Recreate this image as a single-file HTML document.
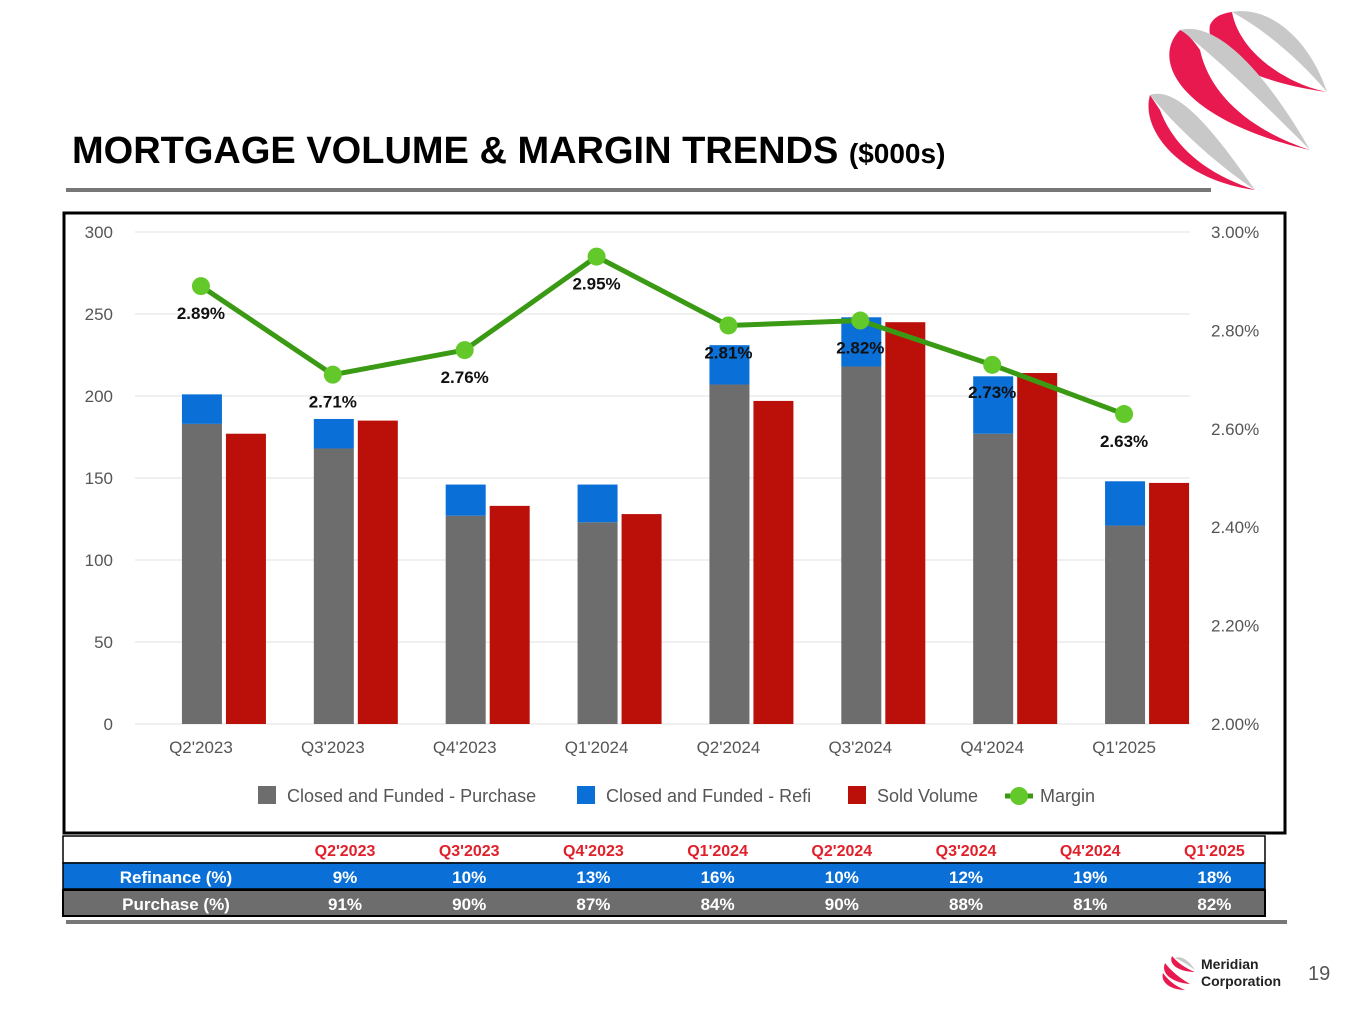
<!DOCTYPE html>
<html><head><meta charset="utf-8"><style>
body{margin:0;background:#fff;font-family:"Liberation Sans",Arial,sans-serif}
svg{display:block}
</style></head><body>
<svg id="s" width="1365" height="1024" viewBox="0 0 1365 1024" xmlns="http://www.w3.org/2000/svg" font-family="Liberation Sans, Arial, sans-serif">
<g>
<path d="M1232,12 C1270,5 1310,40 1327,92 C1300,60 1265,30 1232,12 Z" fill="#c8c8c8"/>
<path d="M1210,25 C1205,50 1240,80 1327,92 C1290,85 1240,55 1232,12 Q1215,14 1210,25Z" fill="#e8194f"/>
<path d="M1180,30 C1220,20 1270,80 1310,150 C1270,110 1220,60 1180,30Z" fill="#c8c8c8"/>
<path d="M1180,30 C1150,60 1180,120 1310,150 C1250,130 1210,95 1200,50 Q1190,35 1180,30Z" fill="#e8194f"/>
<path d="M1150,95 C1180,85 1220,140 1255,190 C1210,160 1170,120 1150,95Z" fill="#c8c8c8"/>
<path d="M1150,95 C1140,130 1180,180 1255,190 C1210,175 1175,150 1160,110Z" fill="#e8194f"/>
</g>
<text x="72" y="163" font-size="38" font-weight="bold" fill="#000">MORTGAGE VOLUME &amp; MARGIN TRENDS <tspan font-size="28">($000s)</tspan></text>
<rect x="66" y="188" width="1145" height="4" fill="#777"/>
<rect x="64" y="213" width="1221" height="620" fill="#fff" stroke="#000" stroke-width="3"/>
<g id="chart"></g>
<g id="table"></g>
<rect x="66" y="920" width="1221" height="4" fill="#777"/>
<g>
<path d="M1175,958 C1182,955 1190,962 1195,970 C1188,965 1180,960 1175,958Z" fill="#c8c8c8"/>
<path d="M1172,956 C1168,965 1180,972 1195,972 C1185,968 1178,963 1172,956Z" fill="#e8194f"/>
<path d="M1165,963 C1160,975 1175,983 1190,984 C1180,978 1172,972 1165,963Z" fill="#e8194f"/>
<path d="M1163,973 C1160,983 1172,990 1185,990 C1175,986 1168,980 1163,973Z" fill="#e8194f"/>
<text x="1201" y="969" font-size="14" font-weight="bold" fill="#222">Meridian</text>
<text x="1201" y="986" font-size="14" font-weight="bold" fill="#222">Corporation</text>
</g>
<text x="1308" y="980" font-size="20" fill="#555">19</text>
</svg>
<script>
const categories=["Q2'2023","Q3'2023","Q4'2023","Q1'2024","Q2'2024","Q3'2024","Q4'2024","Q1'2025"];
const purchase=[183,168,127,123,207,218,177,121];
const refi=[18,18,19,23,24,30,35,27];
const sold=[177,185,133,128,197,245,214,147];
const margin=[2.89,2.71,2.76,2.95,2.81,2.82,2.73,2.63];
const leftTicks=[0,50,100,150,200,250,300];
const rightTicks=[2.0,2.2,2.4,2.6,2.8,3.0];
const refiPct=["9%","10%","13%","16%","10%","12%","19%","18%"];
const purchPct=["91%","90%","87%","84%","90%","88%","81%","82%"];
const NS="http://www.w3.org/2000/svg";
const g=document.getElementById('chart'),tb=document.getElementById('table');
function el(p,t,a,txt){const e=document.createElementNS(NS,t);for(const k in a)e.setAttribute(k,a[k]);if(txt!=null)e.textContent=txt;p.appendChild(e);return e;}
const X0=135,X1=1190,Y0=724,Y1=232,step=(X1-X0)/categories.length;
const y=v=>Y0-(v/300)*(Y0-Y1);
const yr=v=>Y0-((v-2)/1)*(Y0-Y1);
const cx=i=>X0+step*(i+0.5);
leftTicks.forEach(t=>{
 const l=el(g,'line',{x1:X0,x2:X1,y1:y(t),y2:y(t),stroke:'#e0e0e0','stroke-width':1});
 
 const tx=el(g,'text',{x:113,y:y(t)+6,'font-size':17,fill:'#555','text-anchor':'end'},t);
 
});
rightTicks.forEach(t=>{
 const tx=el(g,'text',{x:1211,y:yr(t)+6,'font-size':17,fill:'#555'},t.toFixed(2)+'%');
 
});
categories.forEach((c,i)=>{
 const b1=el(g,'rect',{x:cx(i)-19,y:y(purchase[i]),width:40,height:Y0-y(purchase[i]),fill:'#6d6d6d'});
 
 const b2=el(g,'rect',{x:cx(i)-19,y:y(purchase[i]+refi[i]),width:40,height:y(purchase[i])-y(purchase[i]+refi[i]),fill:'#0a6fd6'});
 
 const b3=el(g,'rect',{x:cx(i)+25,y:y(sold[i]),width:40,height:Y0-y(sold[i]),fill:'#bb0f0a'});
 
 const tx=el(g,'text',{x:cx(i),y:753,'font-size':17,fill:'#555','text-anchor':'middle'},c);
 
});
const pl=el(g,'polyline',{points:margin.map((m,i)=>cx(i)+','+yr(m)).join(' '),fill:'none',stroke:'#3a9a14','stroke-width':5});

margin.forEach((m,i)=>{
 const c=el(g,'circle',{cx:cx(i),cy:yr(m),r:9,fill:'#63c92a'});
 
 const t=el(g,'text',{x:cx(i),y:yr(m)+33,'font-size':17,'font-weight':'bold',fill:'#111','text-anchor':'middle'},m.toFixed(2)+'%');
 
});
const leg=[["Closed and Funded - Purchase",'#6d6d6d',258],["Closed and Funded - Refi",'#0a6fd6',577],["Sold Volume",'#bb0f0a',848]];
leg.forEach(l=>{
 const r=el(g,'rect',{x:l[2],y:786,width:18,height:18,fill:l[1]});
 
 const t=el(g,'text',{x:l[2]+29,y:802,'font-size':18,fill:'#555'},l[0]);
 
});
const ll=el(g,'line',{x1:1005,x2:1033,y1:796,y2:796,stroke:'#3a9a14','stroke-width':5});

const lc=el(g,'circle',{cx:1019,cy:796,r:9,fill:'#63c92a'});

const lt=el(g,'text',{x:1040,y:802,'font-size':18,fill:'#555'},'Margin');

const colX=i=>345+i*124.2;
const hdr=el(tb,'rect',{x:63,y:836,width:1202,height:27,fill:'#fff',stroke:'#000','stroke-width':1.5});

const r1=el(tb,'rect',{x:63,y:863,width:1202,height:26,fill:'#0a6fd6',stroke:'#000','stroke-width':1.5});

const r2=el(tb,'rect',{x:63,y:890,width:1202,height:26,fill:'#6d6d6d',stroke:'#000','stroke-width':2});

const a=el(tb,'text',{x:176,y:883,'font-size':17,'font-weight':'bold',fill:'#fff','text-anchor':'middle'},'Refinance (%)');

const b=el(tb,'text',{x:176,y:910,'font-size':17,'font-weight':'bold',fill:'#fff','text-anchor':'middle'},'Purchase (%)');

categories.forEach((c,i)=>{
 const h=el(tb,'text',{x:colX(i),y:856,'font-size':16,'font-weight':'bold',fill:'#e0202a','text-anchor':'middle'},c);
 
 const v1=el(tb,'text',{x:colX(i),y:883,'font-size':17,'font-weight':'bold',fill:'#fff','text-anchor':'middle'},refiPct[i]);
 
 const v2=el(tb,'text',{x:colX(i),y:910,'font-size':17,'font-weight':'bold',fill:'#fff','text-anchor':'middle'},purchPct[i]);
 
});
</script>
</body></html>
